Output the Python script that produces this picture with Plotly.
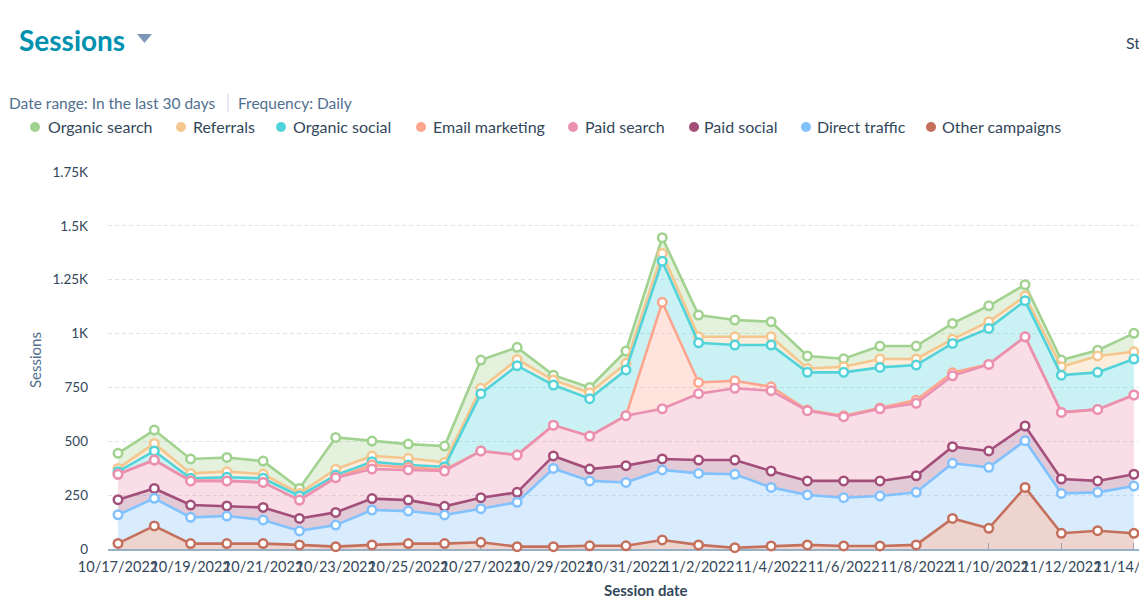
import plotly.graph_objects as go
import numpy as np
import pandas as pd

# ---------------- data ----------------
dates = [f"{d.month}/{d.day}/{d.year}" for d in pd.date_range("2022-10-17", "2022-11-14", freq="D")]

# series in stacking order, bottom -> top
other_campaigns = [26, 107, 25, 25, 25, 19, 11, 19, 25, 25, 31, 11, 11, 15, 15, 42, 19, 6, 14, 19, 14, 14, 19, 142, 96, 286, 73, 85, 73]
direct_traffic = [133, 128, 122, 128, 110, 65, 100, 162, 151, 133, 156, 206, 363, 301, 294, 325, 332, 341, 272, 232, 224, 232, 244, 256, 283, 217, 185, 178, 219]
paid_social = [70, 46, 57, 47, 58, 58, 59, 53, 51, 40, 51, 46, 58, 55, 78, 51, 62, 66, 76, 65, 78, 70, 77, 77, 76, 68, 67, 53, 55]
paid_search = [118, 132, 112, 116, 116, 85, 161, 137, 140, 164, 217, 173, 143, 153, 232, 233, 308, 333, 373, 326, 298, 335, 336, 329, 402, 414, 309, 332, 368]
email_marketing = [0, 0, 0, 0, 0, 0, 0, 19, 12, 6, 0, 0, 0, 0, 0, 494, 52, 35, 18, 3, 4, 4, 15, 14, 0, 0, 0, 0, 0]
organic_social = [12, 42, 12, 17, 19, 19, 12, 15, 11, 14, 266, 415, 186, 174, 212, 191, 184, 166, 194, 175, 202, 188, 163, 136, 167, 167, 173, 172, 167]
referrals = [15, 35, 23, 26, 20, 12, 27, 27, 31, 20, 25, 29, 23, 27, 31, 36, 28, 38, 38, 18, 26, 39, 28, 20, 31, 22, 39, 76, 34]
organic_search = [70, 62, 67, 66, 60, 23, 148, 69, 66, 76, 131, 56, 23, 25, 57, 73, 101, 78, 70, 58, 37, 60, 60, 73, 74, 53, 31, 27, 85]

series_names = ["Other campaigns", "Direct traffic", "Paid social", "Paid search",
                "Email marketing", "Organic social", "Referrals", "Organic search"]
series_values = [other_campaigns, direct_traffic, paid_social, paid_search,
                 email_marketing, organic_social, referrals, organic_search]
series_colors = ["#c4705c", "#81c1fd", "#a34f7a", "#ea90b1",
                 "#fea58e", "#51d3d9", "#f5c78e", "#a2d28f"]

y_tickvals = [0, 250, 500, 750, 1000, 1250, 1500, 1750]
y_ticktext = ["0", "250", "500", "750", "1K", "1.25K", "1.5K", "1.75K"]
x_tickvals = dates[::2]

legend_order = ["Organic search", "Referrals", "Organic social", "Email marketing",
                "Paid search", "Paid social", "Direct traffic", "Other campaigns"]

# ---------------- layout helpers ----------------
W, H = 1139, 608
L, R, T, B = 108, 1139, 172, 549
def px(x):
    return (x - L) / (R - L)
def py(y):
    return (B - y) / (B - T)

def rgba(hexc, a):
    h = hexc.lstrip("#")
    r, g, b = int(h[0:2], 16), int(h[2:4], 16), int(h[4:6], 16)
    return f"rgba({r},{g},{b},{a})"

FONT = "Lato"
TEXT = "#33475b"
SUB = "#516f90"

fig = go.Figure()

# filled stacked areas (bottom first)
for name, vals, col in zip(series_names, series_values, series_colors):
    fig.add_trace(go.Scatter(
        x=dates, y=vals, name=name, stackgroup="fill", mode="none",
        fillcolor=rgba(col, 0.3), hoverinfo="skip", showlegend=False,
    ))

# lines with markers on cumulative totals, top series drawn first
cum = np.cumsum(np.array(series_values), axis=0)
for i in reversed(range(len(series_names))):
    col = series_colors[i]
    fig.add_trace(go.Scatter(
        x=dates, y=cum[i], name=series_names[i], mode="lines+markers",
        line=dict(color=col, width=2.6),
        marker=dict(size=8.5, color="white", line=dict(color=col, width=2.5)),
        cliponaxis=False, showlegend=False,
        customdata=series_values[i],
        hovertemplate="%{x}<br>" + series_names[i] + ": %{customdata}<extra></extra>",
    ))

annotations = []
shapes = []

# title + dropdown caret
annotations.append(dict(x=px(17), y=py(40), xref="paper", yref="paper", xanchor="left", yanchor="middle",
                        text="<b>Sessions</b>", showarrow=False,
                        font=dict(family=FONT, size=28, color="#0091ae")))
shapes.append(dict(type="path", xref="paper", yref="paper",
                   path=f"M {px(137)} {py(34)} L {px(152)} {py(34)} L {px(144.5)} {py(43)} Z",
                   fillcolor="#7c98b6", line=dict(width=0)))
annotations.append(dict(x=px(1124), y=py(42), xref="paper", yref="paper", xanchor="left", yanchor="middle",
                        text="Style", showarrow=False,
                        font=dict(family=FONT, size=16, color=TEXT)))

# subtitle
annotations.append(dict(x=px(7), y=py(103), xref="paper", yref="paper", xanchor="left", yanchor="middle",
                        text="Date range: In the last 30 days", showarrow=False,
                        font=dict(family=FONT, size=15.5, color=SUB)))
shapes.append(dict(type="line", xref="paper", yref="paper", x0=px(228), x1=px(228), y0=py(94), y1=py(112),
                   line=dict(color="#cbd6e2", width=1)))
annotations.append(dict(x=px(236), y=py(103), xref="paper", yref="paper", xanchor="left", yanchor="middle",
                        text="Frequency: Daily", showarrow=False,
                        font=dict(family=FONT, size=15.5, color=SUB)))

# custom legend
legend_dot_x = [35, 181, 281, 421, 573, 694, 806, 931]
legend_text_x = [46, 191, 291, 431, 583, 702, 815, 940]
color_of = dict(zip(series_names, series_colors))
for name, dx, tx in zip(legend_order, legend_dot_x, legend_text_x):
    r = 5
    shapes.append(dict(type="circle", xref="paper", yref="paper",
                       x0=px(dx - r), x1=px(dx + r), y0=py(127 + r), y1=py(127 - r),
                       fillcolor=color_of[name], line=dict(width=0)))
    annotations.append(dict(x=px(tx), y=py(127), xref="paper", yref="paper", xanchor="left", yanchor="middle",
                            text=name, showarrow=False,
                            font=dict(family=FONT, size=16, color=TEXT)))

# axis titles
annotations.append(dict(x=px(35), y=py(360), xref="paper", yref="paper", xanchor="center", yanchor="middle",
                        text="Sessions", textangle=-90, showarrow=False,
                        font=dict(family=FONT, size=15, color=SUB)))
annotations.append(dict(x=px(645), y=py(590), xref="paper", yref="paper", xanchor="center", yanchor="middle",
                        text="<b>Session date</b>", showarrow=False,
                        font=dict(family=FONT, size=15, color=TEXT)))

fig.update_layout(
    width=W, height=H,
    margin=dict(l=L, r=W - R, t=T, b=H - B, autoexpand=False),
    paper_bgcolor="white", plot_bgcolor="white",
    showlegend=False,
    font=dict(family=FONT, color=TEXT),
    annotations=annotations, shapes=shapes,
    hovermode="closest",
)
fig.update_xaxes(
    type="category", range=[-0.276, 28.14],
    tickmode="array", tickvals=x_tickvals, ticktext=x_tickvals, tickangle=0,
    showgrid=False, zeroline=False,
    showline=True, linecolor="#99afc4", linewidth=1.5,
    ticks="inside", ticklen=6, tickcolor="#99afc4", tickwidth=1,
    layer="below traces",
    tickfont=dict(family=FONT, size=14.5, color=TEXT),
    ticklabelstandoff=4,
    automargin=False,
)
fig.update_yaxes(
    range=[0, 1750], tickmode="array", tickvals=y_tickvals, ticktext=y_ticktext,
    showgrid=True, gridcolor="#dfe3eb", griddash="4px,3px", gridwidth=1,
    zeroline=False, showline=False, ticks="",
    tickfont=dict(family=FONT, size=13.5, color=TEXT),
    ticklabelstandoff=19,
    layer="below traces",
    automargin=False,
)

fig.write_html("out.html")
